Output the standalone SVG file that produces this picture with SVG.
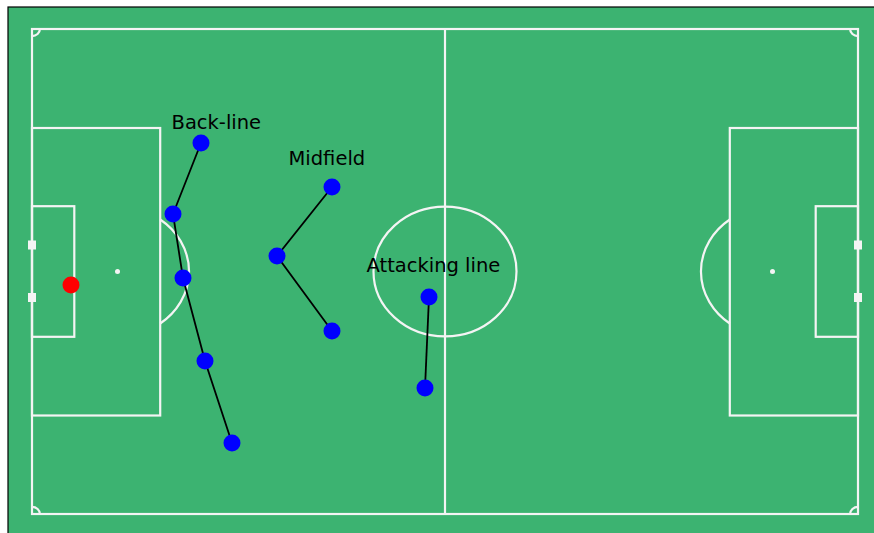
<svg xmlns="http://www.w3.org/2000/svg" width="874" height="533" viewBox="0 0 874 533">
<style>
.ln{fill:none;stroke:#f4f4f4;stroke-width:2.2}
.sp{fill:#f4f4f4}
.pl{fill:#0000ff}
.lbl{font-family:"DejaVu Sans",sans-serif;font-size:19.5px;fill:#000}
.cn{stroke:#000;stroke-width:1.8;fill:none}
</style>
<rect x="0" y="0" width="874" height="533" fill="#fff"/>
<rect x="8" y="7" width="870" height="530" fill="#3cb371" stroke="#000" stroke-width="1.2"/>
<g id="pitch">
<rect class="ln" x="32" y="29" width="826" height="485"/>
<line class="ln" x1="445" y1="29" x2="445" y2="514"/>
<ellipse class="ln" cx="445" cy="271.5" rx="71.5" ry="64.8"/>
<rect class="ln" x="32" y="128" width="128.2" height="287.5"/>
<rect class="ln" x="32" y="206.2" width="42.3" height="130.6"/>
<rect class="ln" x="729.8" y="128" width="128.2" height="287.5"/>
<rect class="ln" x="815.7" y="206.2" width="42.3" height="130.6"/>
<circle class="sp" cx="117.5" cy="271.5" r="2.5"/>
<circle class="sp" cx="772.5" cy="271.5" r="2.5"/>
<path class="ln" d="M160.2 219.5 A71.5 64.8 0 0 1 160.2 323.5"/>
<path class="ln" d="M729.8 219.5 A71.5 64.8 0 0 0 729.8 323.5"/>
<rect class="sp" x="28" y="240.5" width="8" height="9"/>
<rect class="sp" x="28" y="293" width="8" height="9"/>
<rect class="sp" x="854" y="240.5" width="8" height="9"/>
<rect class="sp" x="854" y="293" width="8" height="9"/>
<path class="ln" d="M39.9 29 A7.9 7.1 0 0 1 32 36.1"/>
<path class="ln" d="M850.1 29 A7.9 7.1 0 0 0 858 36.1"/>
<path class="ln" d="M39.9 514 A7.9 7.1 0 0 0 32 506.9"/>
<path class="ln" d="M850.1 514 A7.9 7.1 0 0 1 858 506.9"/>
</g>
<g id="connectors">
<polyline class="cn" points="201,143 173,214 183,278 205,361 232,443"/>
<polyline class="cn" points="332,187 277,256 332,331"/>
<polyline class="cn" points="429,297 425,388"/>
</g>
<g id="backline">
<circle class="pl" cx="201" cy="143" r="8.5"/>
<circle class="pl" cx="173" cy="214" r="8.5"/>
<circle class="pl" cx="183" cy="278" r="8.5"/>
<circle class="pl" cx="205" cy="361" r="8.5"/>
<circle class="pl" cx="232" cy="443" r="8.5"/>
<text class="lbl" x="171.5" y="128.5">Back-line</text>
</g>
<g id="midfield">
<circle class="pl" cx="332" cy="187" r="8.5"/>
<circle class="pl" cx="277" cy="256" r="8.5"/>
<circle class="pl" cx="332" cy="331" r="8.5"/>
<text class="lbl" x="288.5" y="164.5">Midfield</text>
</g>
<g id="attack">
<circle class="pl" cx="429" cy="297" r="8.5"/>
<circle class="pl" cx="425" cy="388" r="8.5"/>
<text class="lbl" x="366.5" y="271.5">Attacking line</text>
</g>
<g id="goalkeeper">
<circle cx="71" cy="285" r="8.5" fill="#ff0000"/>
</g>
</svg>
